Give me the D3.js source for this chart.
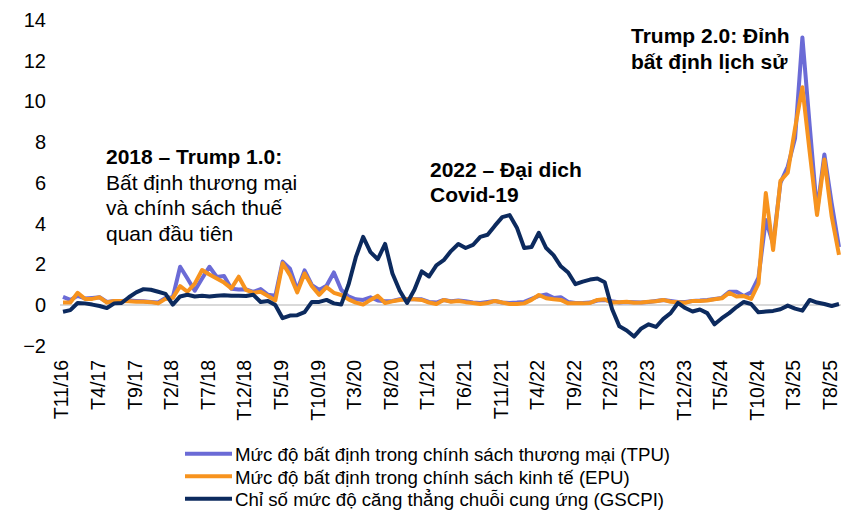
<!doctype html>
<html>
<head>
<meta charset="utf-8">
<script src="https://d3js.org/d3.v7.min.js"></script>
<style>
  body { margin: 0; background: #fff; }
  svg { font-family: "Liberation Sans", Arial, sans-serif; }
</style>
</head>
<body>
<script>
// monthly categories T11/16 .. T9/25
var months = [
  "T11/16","T12/16",
  "T1/17","T2/17","T3/17","T4/17","T5/17","T6/17","T7/17","T8/17","T9/17","T10/17","T11/17","T12/17",
  "T1/18","T2/18","T3/18","T4/18","T5/18","T6/18","T7/18","T8/18","T9/18","T10/18","T11/18","T12/18",
  "T1/19","T2/19","T3/19","T4/19","T5/19","T6/19","T7/19","T8/19","T9/19","T10/19","T11/19","T12/19",
  "T1/20","T2/20","T3/20","T4/20","T5/20","T6/20","T7/20","T8/20","T9/20","T10/20","T11/20","T12/20",
  "T1/21","T2/21","T3/21","T4/21","T5/21","T6/21","T7/21","T8/21","T9/21","T10/21","T11/21","T12/21",
  "T1/22","T2/22","T3/22","T4/22","T5/22","T6/22","T7/22","T8/22","T9/22","T10/22","T11/22","T12/22",
  "T1/23","T2/23","T3/23","T4/23","T5/23","T6/23","T7/23","T8/23","T9/23","T10/23","T11/23","T12/23",
  "T1/24","T2/24","T3/24","T4/24","T5/24","T6/24","T7/24","T8/24","T9/24","T10/24","T11/24","T12/24",
  "T1/25","T2/25","T3/25","T4/25","T5/25","T6/25","T7/25","T8/25","T9/25"
];

var tickLabels = ["T11/16","T4/17","T9/17","T2/18","T7/18","T12/18","T5/19","T10/19","T3/20","T8/20",
  "T1/21","T6/21","T11/21","T4/22","T9/22","T2/23","T7/23","T12/23","T5/24","T10/24","T3/25","T8/25"];

var yTicks = [-2, 0, 2, 4, 6, 8, 10, 12, 14];

// Trade policy uncertainty
var tpu = [
  0.40,0.25,
  0.45,0.32,0.35,0.38,0.15,0.20,0.20,0.22,0.20,0.18,0.15,0.12,
  0.35,0.38,1.88,1.30,0.70,1.30,1.88,1.38,1.42,0.80,0.76,0.77,
  0.65,0.78,0.50,0.45,2.13,1.78,0.74,1.70,0.98,0.74,0.95,1.60,
  0.75,0.42,0.28,0.25,0.38,0.22,0.18,0.20,0.28,0.30,0.28,0.28,
  0.15,0.12,0.25,0.18,0.22,0.18,0.12,0.10,0.15,0.20,0.12,0.10,
  0.12,0.15,0.30,0.45,0.52,0.35,0.38,0.15,0.10,0.10,0.12,0.22,
  0.25,0.18,0.12,0.15,0.14,0.12,0.15,0.20,0.25,0.20,0.15,0.15,
  0.20,0.22,0.25,0.30,0.35,0.65,0.65,0.44,0.62,1.35,4.18,3.00,
  6.00,6.80,8.20,13.15,8.80,4.60,7.40,5.00,2.85
];

// Economic policy uncertainty
var epu = [
  0.12,0.12,
  0.60,0.30,0.30,0.38,0.12,0.20,0.20,0.18,0.16,0.16,0.14,0.08,
  0.30,0.35,0.93,0.65,1.05,1.72,1.50,1.30,1.10,0.82,1.39,0.74,
  0.60,0.65,0.44,0.22,2.05,1.47,0.62,1.55,0.92,0.50,0.88,0.60,
  0.49,0.28,0.12,0.02,0.25,0.45,0.10,0.18,0.25,0.28,0.28,0.25,
  0.12,0.05,0.25,0.16,0.20,0.14,0.10,0.05,0.10,0.20,0.12,0.05,
  0.05,0.08,0.25,0.49,0.33,0.28,0.25,0.08,0.08,0.08,0.10,0.25,
  0.28,0.12,0.14,0.16,0.11,0.12,0.16,0.18,0.25,0.16,0.14,0.11,
  0.20,0.20,0.22,0.28,0.33,0.60,0.42,0.44,0.30,1.05,5.50,2.70,
  6.10,6.50,8.70,10.70,7.50,4.42,7.15,4.35,2.46
];

// Global supply chain pressure index
var gscpi = [
  -0.33,-0.25,
  0.10,0.08,0.02,-0.05,-0.15,0.08,0.10,0.38,0.62,0.78,0.75,0.65,
  0.55,0.02,0.42,0.50,0.42,0.45,0.42,0.46,0.48,0.45,0.46,0.44,
  0.50,0.15,0.20,0.00,-0.65,-0.52,-0.50,-0.35,0.15,0.15,0.25,0.08,
  0.02,1.00,2.35,3.35,2.60,2.25,3.00,1.55,0.70,0.10,0.75,1.65,
  1.40,1.95,2.20,2.65,3.00,2.80,2.95,3.35,3.45,3.90,4.32,4.42,
  3.80,2.80,2.85,3.55,2.80,2.45,1.90,1.60,1.02,1.15,1.25,1.30,
  1.12,-0.20,-1.05,-1.25,-1.55,-1.15,-0.95,-1.08,-0.68,-0.40,0.10,-0.15,
  -0.32,-0.22,-0.40,-0.95,-0.65,-0.40,-0.10,0.15,0.05,-0.36,-0.32,-0.29,
  -0.21,-0.03,-0.18,-0.28,0.25,0.12,0.05,-0.05,0.05
];

var seriesNames = [
  "Mức độ bất định trong chính sách thương mại (TPU)",
  "Mức độ bất định trong chính sách kinh tế (EPU)",
  "Chỉ số mức độ căng thẳng chuỗi cung ứng (GSCPI)"
];
var colors = ["#6b6bd6", "#f7931e", "#0c2a5e"];

var width = 841, height = 512;

var svg = d3.select("body").append("svg")
    .attr("width", width)
    .attr("height", height);

var x = d3.scalePoint().domain(months).range([63, 839]);
var y = d3.scaleLinear().domain([-2, 14]).range([345.7, 20.1]);

// zero line
svg.append("line")
    .attr("x1", 60).attr("x2", 841)
    .attr("y1", y(0)).attr("y2", y(0))
    .attr("stroke", "#d9d9d9")
    .attr("stroke-width", 2);

// y axis
var yAxis = svg.append("g")
    .attr("transform", "translate(46,0)")
    .call(d3.axisLeft(y).tickValues(yTicks).tickSize(0).tickPadding(0));
yAxis.select(".domain").remove();
yAxis.selectAll("text")
    .attr("font-size", "20px")
    .attr("fill", "#000")
    .attr("font-family", "Liberation Sans, Arial, sans-serif");

// x axis
var xAxis = svg.append("g")
    .attr("transform", "translate(0,360)")
    .call(d3.axisBottom(x).tickValues(tickLabels).tickSize(0));
xAxis.select(".domain").remove();
xAxis.selectAll("text")
    .attr("transform", "rotate(-90)")
    .attr("text-anchor", "end")
    .attr("x", 0)
    .attr("y", 0)
    .attr("dy", "0.25em")
    .attr("font-size", "19.5px")
    .attr("fill", "#000")
    .attr("font-family", "Liberation Sans, Arial, sans-serif");

// lines
var line = d3.line()
    .x(function(d, i) { return x(months[i]); })
    .y(function(d) { return y(d); });

[tpu, epu, gscpi].forEach(function(s, k) {
  svg.append("path")
      .datum(s)
      .attr("d", line)
      .attr("fill", "none")
      .attr("stroke", colors[k])
      .attr("stroke-width", 4)
      .attr("stroke-linejoin", "round");
});

// annotations
function note(lines, x0, y0, bold) {
  var t = svg.append("text")
      .attr("x", x0)
      .attr("y", y0)
      .attr("font-size", "21px")
      .attr("fill", "#000");
  lines.forEach(function(l, i) {
    t.append("tspan")
        .attr("x", x0)
        .attr("dy", i === 0 ? 0 : 25.6)
        .attr("font-weight", bold[i] ? "bold" : "normal")
        .text(l);
  });
}
note(["2018 – Trump 1.0:", "Bất định thương mại", "và chính sách thuế", "quan đầu tiên"],
     106, 164, [true, false, false, false]);
note(["2022 – Đại dich", "Covid-19"], 430, 176.5, [true, true]);
note(["Trump 2.0: Đỉnh", "bất định lịch sử"], 631, 43, [true, true]);

// legend
var legend = svg.append("g");
seriesNames.forEach(function(name, k) {
  var ly = 453.7 + k * 22.5;
  legend.append("line")
      .attr("x1", 185).attr("x2", 232)
      .attr("y1", ly).attr("y2", ly)
      .attr("stroke", colors[k])
      .attr("stroke-width", 4);
  legend.append("text")
      .attr("x", 235)
      .attr("y", ly + 7.3)
      .attr("font-size", "18.7px")
      .attr("fill", "#000")
      .text(name);
});
</script>
</body>
</html>
